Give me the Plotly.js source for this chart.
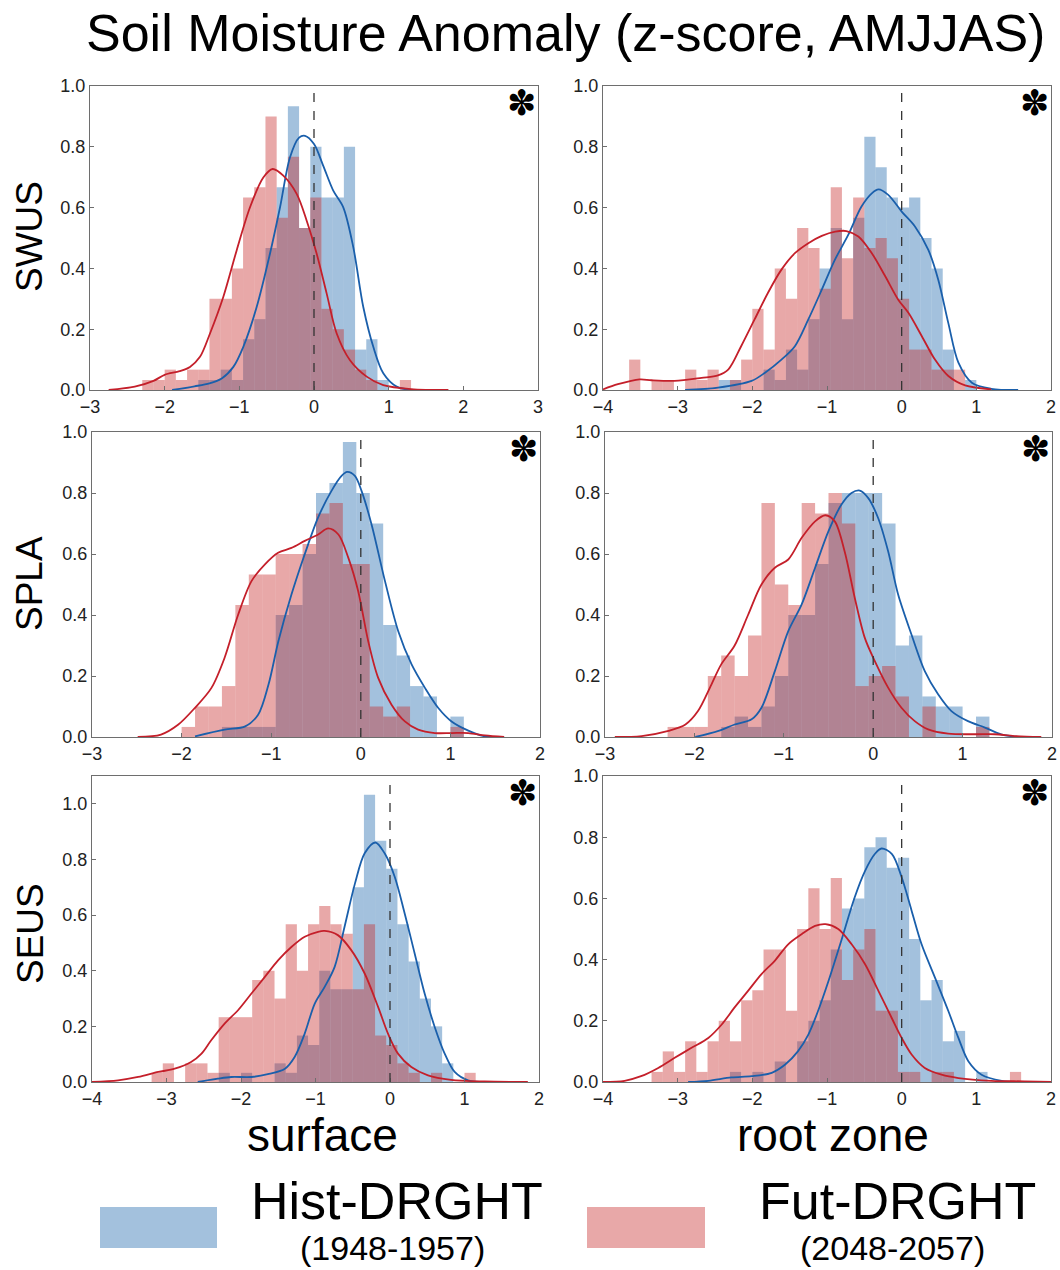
<!DOCTYPE html>
<html>
<head>
<meta charset="utf-8">
<script src="https://cdn.plot.ly/plotly-3.0.1.min.js"></script>
<style>html,body{margin:0;padding:0;background:#fff;} #chart{width:1060px;height:1270px;}</style>
</head>
<body>
<div id="chart"></div>
<script>
// ---------- DATA (histogram densities) ----------
// Panel 1: SWUS surface
const p1BlueX = [-1.475,-1.325,-1.175,-1.025,-0.875,-0.725,-0.575,-0.425,-0.275,-0.125,0.025,0.175,0.325,0.475,0.625,0.775,0.925];
const p1BlueY = [0.033,0.033,0.067,0.033,0.167,0.233,0.467,0.667,0.933,0.533,0.800,0.633,0.633,0.800,0.133,0.167,0.033];
const p1RedX  = [-2.225,-2.075,-1.925,-1.775,-1.625,-1.475,-1.325,-1.175,-1.025,-0.875,-0.725,-0.575,-0.425,-0.275,-0.125,0.025,0.175,0.325,0.475,0.625,0.775,1.225];
const p1RedY  = [0.033,0.033,0.067,0.033,0.067,0.067,0.300,0.300,0.400,0.633,0.667,0.900,0.567,0.767,0.533,0.633,0.267,0.200,0.133,0.067,0.033,0.033];
const p1KdeBlueX = [-1.9,-1.6,-1.4,-1.236,-1.08,-0.947,-0.768,-0.589,-0.455,-0.322,-0.2,-0.12,0,0.12,0.258,0.392,0.526,0.66,0.794,0.928,1.107,1.3];
const p1KdeBlueY = [0,0.012,0.022,0.038,0.076,0.142,0.273,0.449,0.601,0.765,0.83,0.836,0.809,0.74,0.656,0.601,0.47,0.273,0.142,0.055,0.011,0];
const p1KdeRedX = [-2.75,-2.4,-2.15,-2.0,-1.8,-1.661,-1.527,-1.393,-1.215,-1.036,-0.857,-0.679,-0.554,-0.411,-0.232,-0.098,0.036,0.17,0.304,0.482,0.706,0.928,1.3,1.8];
const p1KdeRedY = [0,0.011,0.03,0.05,0.062,0.076,0.109,0.186,0.306,0.459,0.601,0.699,0.727,0.705,0.645,0.557,0.448,0.317,0.186,0.098,0.044,0.016,0.003,0];

// Panel 2: SWUS root zone
const p2BlueX = [-2.375,-2.225,-1.775,-1.625,-1.475,-1.325,-1.175,-1.025,-0.875,-0.725,-0.575,-0.425,-0.275,-0.125,0.025,0.175,0.325,0.475,0.625,0.925];
const p2BlueY = [0.033,0.033,0.067,0.033,0.133,0.067,0.233,0.400,0.533,0.233,0.567,0.833,0.733,0.633,0.600,0.633,0.500,0.400,0.133,0.033];
const p2RedX  = [-3.575,-3.275,-3.125,-2.825,-2.675,-2.525,-2.225,-2.075,-1.925,-1.775,-1.625,-1.475,-1.325,-1.175,-1.025,-0.875,-0.725,-0.575,-0.425,-0.275,-0.125,0.025,0.175,0.325,0.475,0.625,0.775];
const p2RedY  = [0.100,0.033,0.033,0.067,0.033,0.067,0.033,0.100,0.267,0.133,0.400,0.300,0.533,0.467,0.333,0.667,0.433,0.633,0.467,0.500,0.433,0.300,0.133,0.133,0.067,0.067,0.067];
const p2KdeBlueX = [-2.9,-2.46,-2.01,-1.83,-1.61,-1.43,-1.25,-1.07,-0.895,-0.716,-0.54,-0.40,-0.31,-0.18,0,0.178,0.357,0.49,0.625,0.76,0.94,1.2,1.56];
const p2KdeBlueY = [0,0.008,0.03,0.057,0.10,0.144,0.232,0.33,0.428,0.51,0.603,0.647,0.66,0.642,0.587,0.538,0.461,0.363,0.22,0.09,0.024,0.004,0];
const p2KdeRedX = [-4,-3.8,-3.51,-3.35,-3.04,-2.68,-2.46,-2.32,-2.15,-1.97,-1.79,-1.61,-1.43,-1.25,-1.07,-0.89,-0.74,-0.58,-0.40,-0.22,-0.046,0.09,0.27,0.446,0.625,0.85,1.2];
const p2KdeRedY = [0.002,0.019,0.035,0.032,0.03,0.04,0.048,0.068,0.144,0.232,0.32,0.396,0.45,0.483,0.507,0.521,0.523,0.505,0.45,0.374,0.297,0.254,0.177,0.10,0.046,0.015,0.002];

// Panel 3: SPLA surface
const p3BlueX = [-1.475,-1.325,-1.175,-1.025,-0.875,-0.725,-0.575,-0.425,-0.275,-0.125,0.025,0.175,0.325,0.475,0.625,0.775,1.075];
const p3BlueY = [0.033,0.033,0.033,0.033,0.400,0.433,0.600,0.800,0.833,0.967,0.800,0.700,0.367,0.267,0.167,0.133,0.067];
const p3RedX  = [-1.925,-1.775,-1.625,-1.475,-1.325,-1.175,-1.025,-0.875,-0.725,-0.575,-0.425,-0.275,-0.125,0.025,0.175,0.325,0.475,1.075];
const p3RedY  = [0.033,0.100,0.100,0.167,0.433,0.533,0.533,0.600,0.600,0.633,0.733,0.767,0.567,0.567,0.100,0.067,0.100,0.033];
const p3KdeBlueX = [-1.85,-1.52,-1.29,-1.146,-1.03,-0.92,-0.774,-0.625,-0.476,-0.327,-0.215,-0.152,-0.066,0.008,0.12,0.27,0.418,0.567,0.716,0.865,1.013,1.2,1.386,1.57];
const p3KdeBlueY = [0.002,0.024,0.035,0.073,0.172,0.314,0.467,0.60,0.72,0.807,0.856,0.869,0.856,0.807,0.697,0.511,0.347,0.238,0.161,0.095,0.051,0.021,0.002,0];
const p3KdeRedX = [-2.49,-2.23,-2.04,-1.853,-1.667,-1.52,-1.37,-1.22,-1.07,-0.923,-0.774,-0.625,-0.476,-0.364,-0.25,-0.14,-0.029,0.083,0.194,0.343,0.492,0.64,0.827,1.013,1.2,1.386,1.6];
const p3KdeRedY = [0,0.008,0.04,0.095,0.161,0.26,0.40,0.511,0.566,0.604,0.62,0.643,0.664,0.684,0.664,0.588,0.478,0.314,0.194,0.106,0.051,0.024,0.013,0.013,0.013,0.005,0];

// Panel 4: SPLA root zone
const p4BlueX = [-1.625,-1.475,-1.325,-1.175,-1.025,-0.875,-0.725,-0.575,-0.425,-0.275,-0.125,0.025,0.175,0.325,0.475,0.625,0.775,0.925,1.225];
const p4BlueY = [0.033,0.067,0.033,0.100,0.200,0.400,0.400,0.567,0.767,0.800,0.800,0.800,0.700,0.300,0.333,0.133,0.100,0.100,0.067];
const p4RedX  = [-2.225,-2.075,-1.925,-1.775,-1.625,-1.475,-1.325,-1.175,-1.025,-0.875,-0.725,-0.575,-0.425,-0.275,-0.125,0.025,0.175,0.325,0.625,1.225];
const p4RedY  = [0.033,0.033,0.033,0.200,0.267,0.200,0.333,0.767,0.500,0.433,0.767,0.733,0.800,0.700,0.167,0.200,0.233,0.133,0.100,0.033];
const p4KdeBlueX = [-1.99,-1.73,-1.55,-1.36,-1.25,-1.10,-0.95,-0.80,-0.65,-0.50,-0.355,-0.243,-0.15,-0.057,0.055,0.167,0.279,0.428,0.577,0.726,0.875,1.06,1.25,1.43,1.62];
const p4KdeBlueY = [0,0.02,0.041,0.058,0.096,0.216,0.347,0.435,0.555,0.675,0.762,0.80,0.808,0.784,0.718,0.609,0.467,0.336,0.216,0.14,0.085,0.052,0.031,0.009,0];
const p4KdeRedX = [-2.89,-2.59,-2.29,-2.1,-1.96,-1.81,-1.70,-1.55,-1.40,-1.25,-1.10,-0.95,-0.80,-0.65,-0.534,-0.43,-0.32,-0.206,-0.094,0.018,0.167,0.316,0.465,0.614,0.838,1.135,1.36,1.58,1.88];
const p4KdeRedY = [0,0.003,0.02,0.041,0.085,0.172,0.238,0.30,0.40,0.50,0.555,0.582,0.653,0.707,0.727,0.707,0.609,0.456,0.325,0.249,0.162,0.096,0.052,0.025,0.011,0.009,0.009,0.003,0];

// Panel 5: SEUS surface
const p5BlueX = [-2.225,-1.925,-1.475,-1.325,-1.175,-1.025,-0.875,-0.725,-0.575,-0.425,-0.275,-0.125,0.025,0.175,0.325,0.475,0.625,0.775];
const p5BlueY = [0.033,0.033,0.067,0.033,0.167,0.133,0.400,0.333,0.333,0.700,1.033,0.867,0.767,0.567,0.433,0.300,0.200,0.067];
const p5RedX  = [-3.125,-2.975,-2.675,-2.525,-2.375,-2.225,-2.075,-1.925,-1.775,-1.625,-1.475,-1.325,-1.175,-1.025,-0.875,-0.725,-0.575,-0.425,-0.275,-0.125,0.025,0.175,0.325,0.625,1.075];
const p5RedY  = [0.033,0.067,0.067,0.067,0.033,0.233,0.233,0.233,0.367,0.400,0.300,0.567,0.400,0.567,0.633,0.567,0.533,0.333,0.567,0.167,0.133,0.067,0.033,0.033,0.033];
const p5KdeBlueX = [-2.58,-2.31,-2.13,-1.86,-1.64,-1.41,-1.28,-1.145,-1.01,-0.877,-0.743,-0.61,-0.47,-0.34,-0.197,-0.072,0.063,0.197,0.331,0.465,0.60,0.734,0.868,1.047,1.27];
const p5KdeBlueY = [0,0.012,0.018,0.018,0.028,0.048,0.09,0.174,0.282,0.342,0.414,0.558,0.714,0.822,0.861,0.822,0.738,0.606,0.462,0.318,0.198,0.102,0.036,0.006,0];
const p5KdeRedX = [-4,-3.65,-3.38,-3.11,-2.89,-2.67,-2.53,-2.40,-2.22,-2.04,-1.86,-1.68,-1.50,-1.32,-1.145,-0.966,-0.877,-0.70,-0.52,-0.34,-0.16,-0.027,0.107,0.286,0.51,0.82,1.27,1.85];
const p5KdeRedY = [0,0.006,0.018,0.036,0.048,0.072,0.102,0.15,0.21,0.258,0.318,0.378,0.438,0.486,0.522,0.54,0.543,0.528,0.474,0.39,0.27,0.174,0.102,0.054,0.024,0.008,0.002,0];

// Panel 6: SEUS root zone
const p6BlueX = [-2.225,-1.925,-1.625,-1.325,-1.175,-1.025,-0.875,-0.725,-0.575,-0.425,-0.275,-0.125,0.025,0.175,0.325,0.475,0.625,0.775,1.075];
const p6BlueY = [0.033,0.033,0.067,0.133,0.200,0.267,0.433,0.567,0.600,0.767,0.800,0.700,0.733,0.467,0.267,0.333,0.133,0.167,0.033];
const p6RedX  = [-3.275,-3.125,-2.975,-2.825,-2.675,-2.525,-2.375,-2.225,-2.075,-1.925,-1.775,-1.625,-1.475,-1.325,-1.175,-1.025,-0.875,-0.725,-0.575,-0.425,-0.275,-0.125,0.025,0.175,0.475,0.625,1.525];
const p6RedY  = [0.033,0.100,0.033,0.133,0.033,0.133,0.200,0.133,0.267,0.300,0.433,0.433,0.233,0.500,0.633,0.500,0.667,0.333,0.433,0.500,0.233,0.233,0.033,0.033,0.033,0.033,0.033];
const p6KdeBlueX = [-2.86,-2.59,-2.28,-2.01,-1.74,-1.56,-1.39,-1.25,-1.12,-0.98,-0.81,-0.63,-0.49,-0.36,-0.27,-0.13,0,0.133,0.267,0.446,0.625,0.76,0.893,1.07,1.34,1.61];
const p6KdeBlueY = [0,0.004,0.015,0.019,0.03,0.057,0.10,0.155,0.232,0.33,0.461,0.603,0.69,0.745,0.763,0.745,0.669,0.56,0.45,0.341,0.232,0.144,0.068,0.024,0.004,0];
const p6KdeRedX = [-4,-3.71,-3.49,-3.26,-3.04,-2.82,-2.59,-2.41,-2.24,-2.06,-1.88,-1.70,-1.52,-1.34,-1.16,-1.02,-0.85,-0.67,-0.49,-0.31,-0.135,0,0.133,0.31,0.535,0.76,1.2,1.65,2];
const p6KdeRedY = [0,0.004,0.019,0.046,0.079,0.111,0.144,0.188,0.243,0.297,0.352,0.396,0.45,0.483,0.51,0.516,0.50,0.45,0.385,0.297,0.21,0.144,0.09,0.046,0.024,0.013,0.004,0.002,0];

const binWidth = 0.15;
const xRanges = [[-3,3],[-4,2],[-3,2],[-3,2],[-4,2],[-4,2]];
const yRanges = [[0,1],[0,1],[0,1],[0,1],[0,1.1],[0,1]];
const rowLabels = ['SWUS','SPLA','SEUS'];
const colLabels = ['surface','root zone'];
const legendNames = ['Hist-DRGHT','Fut-DRGHT'];
const legendYears = ['(1948-1957)','(2048-2057)'];
const titleText = 'Soil Moisture Anomaly (z-score, AMJJAS)';

// ---------- STYLE ----------
const W = 1060, H = 1270;
const FONT = 'Liberation Sans, Arial, Helvetica, sans-serif';
const blueFill = 'rgba(25,100,170,0.4)';
const redFill = 'rgba(197,37,37,0.4)';
const blueLine = '#1a5fab';
const redLine = '#c41f2a';
const frame = '#6e6e6e';

const panels = [
  {hb:[p1BlueX,p1BlueY], hr:[p1RedX,p1RedY], kb:[p1KdeBlueX,p1KdeBlueY], kr:[p1KdeRedX,p1KdeRedY]},
  {hb:[p2BlueX,p2BlueY], hr:[p2RedX,p2RedY], kb:[p2KdeBlueX,p2KdeBlueY], kr:[p2KdeRedX,p2KdeRedY]},
  {hb:[p3BlueX,p3BlueY], hr:[p3RedX,p3RedY], kb:[p3KdeBlueX,p3KdeBlueY], kr:[p3KdeRedX,p3KdeRedY]},
  {hb:[p4BlueX,p4BlueY], hr:[p4RedX,p4RedY], kb:[p4KdeBlueX,p4KdeBlueY], kr:[p4KdeRedX,p4KdeRedY]},
  {hb:[p5BlueX,p5BlueY], hr:[p5RedX,p5RedY], kb:[p5KdeBlueX,p5KdeBlueY], kr:[p5KdeRedX,p5KdeRedY]},
  {hb:[p6BlueX,p6BlueY], hr:[p6RedX,p6RedY], kb:[p6KdeBlueX,p6KdeBlueY], kr:[p6KdeRedX,p6KdeRedY]}
];

// pixel frames of each panel: [left, right, top, bottom]
const framesPx = [
  [90,538,86,390],[603,1051,86,390],
  [92,540,432,737],[605,1052,432,737],
  [92,539,776,1082],[603,1051,776,1082]
];

const traces = [];
const layout = {
  width: W, height: H,
  margin: {l:0,r:0,t:0,b:0},
  paper_bgcolor:'#fff', plot_bgcolor:'#fff',
  barmode:'overlay', showlegend:false,
  font:{family:FONT, color:'#222'},
  shapes:[], annotations:[]
};

panels.forEach((p,i) => {
  const n = i+1;
  const xa = 'x'+(n===1?'':n), ya = 'y'+(n===1?'':n);
  const f = framesPx[i];
  traces.push({type:'bar', x:p.hb[0], y:p.hb[1], width:binWidth, xaxis:xa, yaxis:ya,
    marker:{color:blueFill, line:{width:0}}, hoverinfo:'skip'});
  traces.push({type:'bar', x:p.hr[0], y:p.hr[1], width:binWidth, xaxis:xa, yaxis:ya,
    marker:{color:redFill, line:{width:0}}, hoverinfo:'skip'});
  traces.push({type:'scatter', mode:'lines', x:p.kb[0], y:p.kb[1], xaxis:xa, yaxis:ya,
    line:{color:blueLine, width:1.8, shape:'spline', smoothing:0.9}, hoverinfo:'skip'});
  traces.push({type:'scatter', mode:'lines', x:p.kr[0], y:p.kr[1], xaxis:xa, yaxis:ya,
    line:{color:redLine, width:1.8, shape:'spline', smoothing:0.9}, hoverinfo:'skip'});

  const xKey = 'xaxis'+(n===1?'':n), yKey = 'yaxis'+(n===1?'':n);
  layout[xKey] = {
    domain:[f[0]/W, f[1]/W], range:xRanges[i], anchor:ya,
    dtick:1, tick0:0, ticks:'inside', ticklen:4, tickcolor:frame, tickwidth:1,
    showline:true, linecolor:frame, linewidth:1.2, mirror:true,
    showgrid:false, zeroline:false, fixedrange:true,
    tickfont:{size:18, family:FONT, color:'#222'}
  };
  layout[yKey] = {
    domain:[1-f[3]/H, 1-f[2]/H], range:yRanges[i], anchor:xa,
    tickvals:[0,0.2,0.4,0.6,0.8,1.0], tickformat:'.1f',
    ticks:'inside', ticklen:4, tickcolor:frame, tickwidth:1,
    showline:true, linecolor:frame, linewidth:1.2, mirror:true,
    showgrid:false, zeroline:false, fixedrange:true,
    tickfont:{size:18, family:FONT, color:'#222'}
  };
  // dashed zero line
  layout.shapes.push({type:'line', xref:xa, yref:ya+' domain', x0:0, x1:0, y0:0, y1:1,
    line:{color:'#333', width:1.3, dash:'dash'}, layer:'above'});
  // significance asterisk
  layout.annotations.push({xref:'paper', yref:'paper', x:(f[1]-17)/W, y:1-(f[2]+17)/H,
    text:'✽', showarrow:false, xanchor:'center', yanchor:'middle',
    font:{size:35, family:'DejaVu Sans', color:'#000'}});
});

// title
layout.annotations.push({xref:'paper', yref:'paper', x:565/W, y:1-33/H, text:titleText,
  showarrow:false, xanchor:'center', yanchor:'middle', font:{size:52, family:FONT, color:'#000'}});
// row labels
[237,584,934].forEach((py,r) => {
  layout.annotations.push({xref:'paper', yref:'paper', x:30/W, y:1-py/H, text:rowLabels[r],
    textangle:-90, showarrow:false, xanchor:'center', yanchor:'middle',
    font:{size:37, family:FONT, color:'#000'}});
});
// column labels
[322,833].forEach((px,c) => {
  layout.annotations.push({xref:'paper', yref:'paper', x:px/W, y:1-1135/H, text:colLabels[c],
    showarrow:false, xanchor:'center', yanchor:'middle', font:{size:46, family:FONT, color:'#000'}});
});
// legend
const swatch = [[100,217,blueFill],[587,705,redFill]];
const legTextX = [397,897];
swatch.forEach((s,k) => {
  layout.shapes.push({type:'rect', xref:'paper', yref:'paper', x0:s[0]/W, x1:s[1]/W,
    y0:1-1248/H, y1:1-1207/H, fillcolor:s[2], line:{width:0}});
  layout.annotations.push({xref:'paper', yref:'paper', x:legTextX[k]/W, y:1-1201/H, text:legendNames[k],
    showarrow:false, xanchor:'center', yanchor:'middle', font:{size:52, family:FONT, color:'#000'}});
  layout.annotations.push({xref:'paper', yref:'paper', x:(legTextX[k]-5)/W, y:1-1248/H, text:legendYears[k],
    showarrow:false, xanchor:'center', yanchor:'middle', font:{size:34, family:FONT, color:'#000'}});
});

Plotly.newPlot('chart', traces, layout, {staticPlot:true, displayModeBar:false});
</script>
</body>
</html>
